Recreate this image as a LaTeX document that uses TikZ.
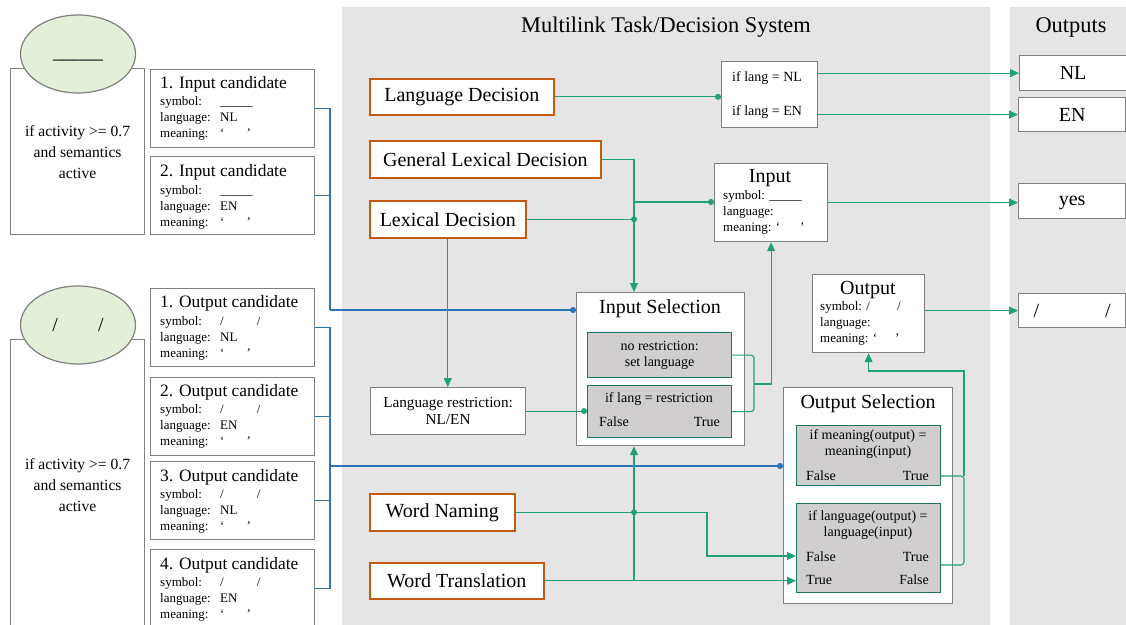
\documentclass[tikz,border=0pt]{standalone}
\usepackage{fontspec}
\setmainfont{Liberation Serif}
\usetikzlibrary{shapes.geometric,arrows.meta}

\definecolor{panelgray}{RGB}{229,229,229}
\definecolor{boxgray}{RGB}{128,128,128}
\definecolor{taskorange}{RGB}{197,90,17}
\definecolor{linkgreen}{RGB}{34,160,122}
\definecolor{busblue}{RGB}{46,117,182}
\definecolor{condgray}{RGB}{208,206,206}
\definecolor{conddark}{RGB}{30,120,85}
\definecolor{wordgreen}{RGB}{227,239,217}

\newcommand{\fnttitle}{\fontsize{22.4}{26}\selectfont}
\newcommand{\fntbig}{\fontsize{20}{24}\selectfont}
\newcommand{\fntcand}{\fontsize{17.4}{20}\selectfont}
\newcommand{\fntact}{\fontsize{15.6}{21}\selectfont}
\newcommand{\fntres}{\fontsize{15.2}{17}\selectfont}
\newcommand{\fntcond}{\fontsize{14}{16}\selectfont}
\newcommand{\fntsmall}{\fontsize{13}{16}\selectfont}
\newcommand{\undl}{\_\_\_\_\_}
\newcommand{\candlines}[3]{\begin{tabular}{@{}p{60pt}@{}l@{}}symbol: & #1\\ language: & #2\\ meaning: & #3\end{tabular}}

\begin{document}
\begin{tikzpicture}[x=1pt,y=1pt,yscale=-1,xscale=1,
	box/.style={draw=boxgray,fill=white,line width=1.2pt,inner sep=0pt,anchor=north west},
	taskbox/.style={draw=taskorange,fill=white,line width=1.6pt,inner sep=0pt,anchor=north west,font=\fntbig},
	condbox/.style={draw=conddark,fill=condgray,line width=1.2pt,inner sep=0pt,anchor=north west,font=\fntcond},
	wordnode/.style={ellipse,draw=boxgray,fill=wordgreen,line width=1.2pt,minimum width=115pt,minimum height=78pt,inner sep=0pt,font=\fntbig},
	txt/.style={inner sep=0pt},
	link/.style={draw=linkgreen,line width=1.1pt},
	bus/.style={draw=busblue,line width=1.2pt},
	arr/.style={-{Triangle[length=9pt,width=8pt]}},
	dot/.style={-{Circle[length=6pt]}}]
		\useasboundingbox (0,0) rectangle (1126,624);
		
		%Shape: Panels
		\fill[panelgray] (342,7) rectangle (990,630);
		\fill[panelgray] (1010,7) rectangle (1130,630);
		% Text Node
		\node[txt,font=\fnttitle] (systitle) at (666,27) {Multilink Task/Decision System};
		% Text Node
		\node[txt,font=\fnttitle] (outtitle) at (1071,27) {Outputs};
		
		%Shape: Input word
		\node[box,minimum width=134pt,minimum height=166pt,align=center,font=\fntact] (inact) at (10,68) {if activity >= 0.7\\and semantics\\active};
		\node[wordnode] (inword) at (78,54) {\strut\undl};
		%Shape: Output word
		\node[box,minimum width=134pt,minimum height=291pt,align=center,font=\fntact] (outact) at (10,339) {if activity >= 0.7\\and semantics\\active};
		\node[wordnode] (outword) at (78,325) {/\hspace{40pt}/};
		
		%Shape: Input candidates
		\node[box,minimum width=164pt,minimum height=78pt] (ic1) at (150,69) {};
		\node[txt,anchor=west,font=\fntcand] (ic1h) at (160,84) {1. Input candidate};
		\node[txt,anchor=north west,font=\fntsmall] (ic1b) at (160,94) {\candlines{\undl}{NL}{‘\hspace{22pt}’}};
		\node[box,minimum width=164pt,minimum height=78pt] (ic2) at (150,156) {};
		\node[txt,anchor=west,font=\fntcand] (ic2h) at (160,172) {2. Input candidate};
		\node[txt,anchor=north west,font=\fntsmall] (ic2b) at (160,183) {\candlines{\undl}{EN}{‘\hspace{22pt}’}};
		
		%Shape: Output candidates
		\node[box,minimum width=164pt,minimum height=78pt] (oc1) at (150,288) {};
		\node[txt,anchor=west,font=\fntcand] (oc1h) at (160,303) {1. Output candidate};
		\node[txt,anchor=north west,font=\fntsmall] (oc1b) at (160,314) {\candlines{/\hspace{33pt}/}{NL}{‘\hspace{22pt}’}};
		\node[box,minimum width=164pt,minimum height=78pt] (oc2) at (150,377) {};
		\node[txt,anchor=west,font=\fntcand] (oc2h) at (160,392) {2. Output candidate};
		\node[txt,anchor=north west,font=\fntsmall] (oc2b) at (160,402) {\candlines{/\hspace{33pt}/}{EN}{‘\hspace{22pt}’}};
		\node[box,minimum width=164pt,minimum height=78pt] (oc3) at (150,461) {};
		\node[txt,anchor=west,font=\fntcand] (oc3h) at (160,477) {3. Output candidate};
		\node[txt,anchor=north west,font=\fntsmall] (oc3b) at (160,487) {\candlines{/\hspace{33pt}/}{NL}{‘\hspace{22pt}’}};
		\node[box,minimum width=164pt,minimum height=78pt] (oc4) at (150,549) {};
		\node[txt,anchor=west,font=\fntcand] (oc4h) at (160,565) {4. Output candidate};
		\node[txt,anchor=north west,font=\fntsmall] (oc4b) at (160,575) {\candlines{/\hspace{33pt}/}{EN}{‘\hspace{22pt}’}};
		
		%Shape: Tasks
		\node[taskbox,minimum width=184pt,minimum height=36pt] (langdec) at (369,78) {Language Decision};
		\node[taskbox,minimum width=231pt,minimum height=37pt] (genlex) at (369,140) {General Lexical Decision};
		\node[taskbox,minimum width=156pt,minimum height=37pt] (lexdec) at (369,200) {Lexical Decision};
		\node[taskbox,minimum width=145pt,minimum height=37pt] (wnaming) at (369,493) {Word Naming};
		\node[taskbox,minimum width=174pt,minimum height=36pt] (wtrans) at (369,562) {Word Translation};
		
		%Shape: Language check
		\node[box,minimum width=96pt,minimum height=66pt] (langsel) at (721,61) {};
		\node[txt,anchor=west,font=\fntcond] (ifnl) at (732,78) {if lang = NL};
		\node[txt,anchor=west,font=\fntcond] (ifen) at (732,112) {if lang = EN};
		
		%Shape: Input
		\node[box,minimum width=113pt,minimum height=78pt] (inbox) at (714,163) {};
		\node[txt,font=\fntbig] (inboxh) at (770,178) {Input};
		\node[txt,anchor=north west,font=\fntsmall,align=left] (inboxb) at (723,190) {symbol: \undl\\language:\\meaning: ‘\hspace{20pt}’};
		
		%Shape: Output
		\node[box,minimum width=112pt,minimum height=78pt] (outbox) at (812,274) {};
		\node[txt,font=\fntbig] (outboxh) at (868,290) {Output};
		\node[txt,anchor=north west,font=\fntsmall,align=left] (outboxb) at (820,301) {symbol: /\hspace{27pt}/\\language:\\meaning: ‘\hspace{18pt}’};
		
		%Shape: Language restriction
		\node[box,minimum width=155pt,minimum height=47pt,align=center,font=\fntres] (langres) at (370,387) {Language restriction:\\NL/EN};
		
		%Shape: Input Selection
		\node[box,minimum width=168pt,minimum height=153pt] (insel) at (576,292) {};
		\node[txt,font=\fntbig] (inselh) at (660,309) {Input Selection};
		\node[condbox,minimum width=144pt,minimum height=45pt,align=center] (condnone) at (587,332) {no restriction:\\set language};
		\node[condbox,minimum width=144pt,minimum height=52pt] (condres) at (587,385) {};
		\node[txt,font=\fntcond] (condresh) at (659,399) {if lang = restriction};
		\node[txt,anchor=west,font=\fntcond] (resfalse) at (599,422) {False};
		\node[txt,anchor=east,font=\fntcond] (restrue) at (720,422) {True};
		
		%Shape: Output Selection
		\node[box,minimum width=169pt,minimum height=216pt] (outsel) at (783,387) {};
		\node[txt,font=\fntbig] (outselh) at (868,404) {Output Selection};
		\node[condbox,minimum width=144pt,minimum height=60pt] (condmean) at (796,425) {};
		\node[txt,align=center,font=\fntcond] (condmeanh) at (868,444) {if meaning(output) =\\meaning(input)};
		\node[txt,anchor=west,font=\fntcond] (meanfalse) at (806,476) {False};
		\node[txt,anchor=east,font=\fntcond] (meantrue) at (929,476) {True};
		\node[condbox,minimum width=144pt,minimum height=89pt] (condlang) at (796,503) {};
		\node[txt,align=center,font=\fntcond] (condlangh) at (868,525) {if language(output) =\\language(input)};
		\node[txt,anchor=west,font=\fntcond] (lngfalse1) at (806,557) {False};
		\node[txt,anchor=east,font=\fntcond] (lngtrue1) at (929,557) {True};
		\node[txt,anchor=west,font=\fntcond] (lngtrue2) at (806,580) {True};
		\node[txt,anchor=east,font=\fntcond] (lngfalse2) at (929,580) {False};
		
		%Shape: Outputs
		\node[box,minimum width=107pt,minimum height=35pt,font=\fntbig] (outnl) at (1019,55) {NL};
		\node[box,minimum width=107pt,minimum height=34pt,font=\fntbig] (outen) at (1018,97) {EN};
		\node[box,minimum width=107pt,minimum height=35pt,font=\fntbig] (outyes) at (1018,183) {\strut yes};
		\node[box,minimum width=107pt,minimum height=34pt,font=\fntbig] (outsym) at (1018,293) {/\hspace{66pt}/};
		
		%Straight Lines: candidates
		\coordinate (inbus) at (330,310);
		\coordinate (outbus) at (330,466);
		\draw[bus] (ic1.east) -| (inbus);
		\draw[bus] (ic2.east) -| (inbus);
		\draw[bus,dot] (inbus) -- (inbus -| insel.west);
		\draw[bus] (oc1.east) -| (outbus);
		\draw[bus] (oc2.east) -| (outbus);
		\draw[bus] (oc3.east) -| (outbus);
		\draw[bus] (oc4.east) -| (outbus);
		\draw[bus,dot] (outbus) -- (outbus -| outsel.west);
		
		%Straight Lines: tasks
		\coordinate (vbus) at (634,202);
		\coordinate (insbr) at (754,384);
		\coordinate (outbr) at (964,371);
		\coordinate (lngbr) at (964,565);
		\coordinate (namebend) at (707,556);
		\draw[link,dot] (langdec.east) -- (langdec.east -| langsel.west);
		\draw[link,arr] (outnl.west -| langsel.east) -- (outnl.west);
		\draw[link,arr] (outen.west -| langsel.east) -- (outen.west);
		\draw[link,arr] (genlex.east) -| (insel.north -| vbus);
		\draw[link] (lexdec.east) -- (lexdec.east -| vbus);
		\fill[linkgreen] (lexdec.east -| vbus) circle (3);
		\draw[link,dot] (vbus) -- (vbus -| inbox.west);
		\draw[link,arr] (lexdec.south) -- (lexdec.south |- langres.north);
		\draw[link,dot] (langres.east) -- (langres.east -| condres.west);
		\draw[link,rounded corners=3] (condnone.east) -| (insbr) |- (condres.east);
		\draw[link,arr] (insbr) -| (inbox.south);
		\draw[link,arr] (inbox.east) -- (inbox.east -| outyes.west);
		\draw[link,arr] (outsym.west -| outbox.east) -- (outsym.west);
		\draw[link,arr] (wnaming.east) -| (namebend) -- (namebend -| condlang.west);
		\draw[link,arr] (wtrans.east) -- (wtrans.east -| condlang.west);
		\draw[link,arr] (wtrans.east -| vbus) -- (insel.south -| vbus);
		\fill[linkgreen] (wnaming.east -| vbus) circle (3);
		\draw[link,rounded corners=3] (meantrue.east -| condmean.east) -| (lngbr) -- (lngbr -| condlang.east);
		\draw[link,arr] (meantrue.east -| outbr) -- (outbr) -| (outbox.south);
		
\end{tikzpicture}
\end{document}
